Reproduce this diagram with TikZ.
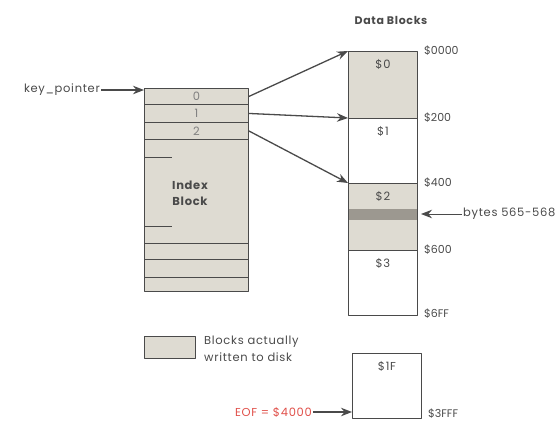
\documentclass[tikz,border=0pt]{standalone}
\usepackage{fontspec}
\setmainfont{Poppins}
\newfontfamily\widefont[LetterSpace=6]{Poppins}
\usetikzlibrary{arrows.meta,positioning}
\definecolor{inkgray}{HTML}{4A4A4A}
\definecolor{diskfill}{HTML}{DEDBD2}
\definecolor{stripe}{HTML}{9C9890}
\definecolor{eofred}{HTML}{E0504A}
\tikzset{
  every picture/.style={font=\widefont\fontsize{11.5}{16.5}\selectfont, line join=round, >=Stealth},
  blk/.style={draw=inkgray, line width=0.9pt, inner sep=0pt, anchor=north west},
  idxrow/.style={blk, fill=diskfill, minimum width=104pt},
  datseg/.style={blk, minimum width=69pt},
  ptr/.style={draw=inkgray, line width=1.3pt, -{Stealth[length=11pt,width=8.5pt]}},
  lbl/.style={text=inkgray, inner sep=1pt},
  addr/.style={lbl, font=\rmfamily\fontsize{11}{13}\selectfont, anchor=west},
}
\begin{document}
\begin{tikzpicture}[x=1pt,y=-1pt]
\useasboundingbox (0,0) rectangle (555,424);
% index block
\node[idxrow,minimum height=16pt] (r0) at (144,88) {};
\node[idxrow,minimum height=18pt] (r1) at (144,104) {};
\node[idxrow,minimum height=17pt] (r2) at (144,122) {};
\node[idxrow,minimum height=104pt] (body) at (144,139) {};
\node[idxrow,minimum height=16pt] (r3) at (144,243) {};
\node[idxrow,minimum height=18pt] (r4) at (144,259) {};
\node[idxrow,minimum height=14pt] (r5) at (144,277) {};
\node[lbl,text=gray] at (r0) {0};
\node[lbl,text=gray] at (r1) {1};
\node[lbl,text=gray] at (r2) {2};
\node[lbl,align=center,font=\widefont\fontsize{11.5}{16}\selectfont\bfseries] (idx) at (190,193) {Index\\Block};
\draw[inkgray,line width=0.9pt] (144,157)--(172,157) (144,226)--(172,226);
\node[lbl,anchor=east] (key) at (101,90) {key\_pointer};
\draw[ptr] (key.east) -- (key.east -| r0.west);
% data blocks
\node[lbl,font=\widefont\fontsize{11}{13}\selectfont\bfseries] (title) at (391,20) {Data Blocks};
\node[datseg,fill=diskfill,minimum height=67pt] (s0) at (348,51) {};
\node[datseg,minimum height=65pt] (s1) at (348,118) {};
\node[datseg,fill=diskfill,minimum height=67pt] (s2) at (348,183) {};
\fill[stripe] (348.5,209) rectangle (416.5,220);
\node[datseg,minimum height=65pt] (s3) at (348,250) {};
\node[lbl,below=7pt of s0.north] {\$0};
\node[lbl,below=7pt of s1.north] {\$1};
\node[lbl,below=7pt of s2.north] {\$2};
\node[lbl,below=7pt of s3.north] {\$3};
\node[addr] at ([xshift=5pt]s0.north east) {\$0000};
\node[addr] at ([xshift=5pt]s1.north east) {\$200};
\node[addr] at ([xshift=5pt]s2.north east) {\$400};
\node[addr] at ([xshift=5pt]s3.north east) {\$600};
\node[addr] at ([xshift=5pt,yshift=2pt]s3.south east) {\$6FF};
\draw[ptr] (r0.east) -- (s0.north west);
\draw[ptr] (r1.east) -- (s1.north west);
\draw[ptr] (r2.east) -- (s2.north west);
\node[lbl,anchor=west] (bytes) at (462,214) {bytes 565-568};
\coordinate (strp) at (421,214);
\draw[ptr,line width=1pt] (bytes.west) -- (strp);
% legend
\node[blk,fill=diskfill,minimum width=51pt,minimum height=22pt] (leg) at (144,336) {};
\node[lbl,anchor=north west,align=left] at (203,335) {Blocks actually\\written to disk};
% last block
\node[datseg,minimum height=65pt] (s1f) at (352,353) {};
\node[lbl,below=7pt of s1f.north] {\$1F};
\node[addr] at ([xshift=5pt,yshift=5pt]s1f.south east) {\$3FFF};
\node[lbl,text=eofred,anchor=east] (eof) at (313,412) {EOF = \$4000};
\draw[ptr] (eof.east) -- (eof.east -| s1f.west);
\end{tikzpicture}
\end{document}
